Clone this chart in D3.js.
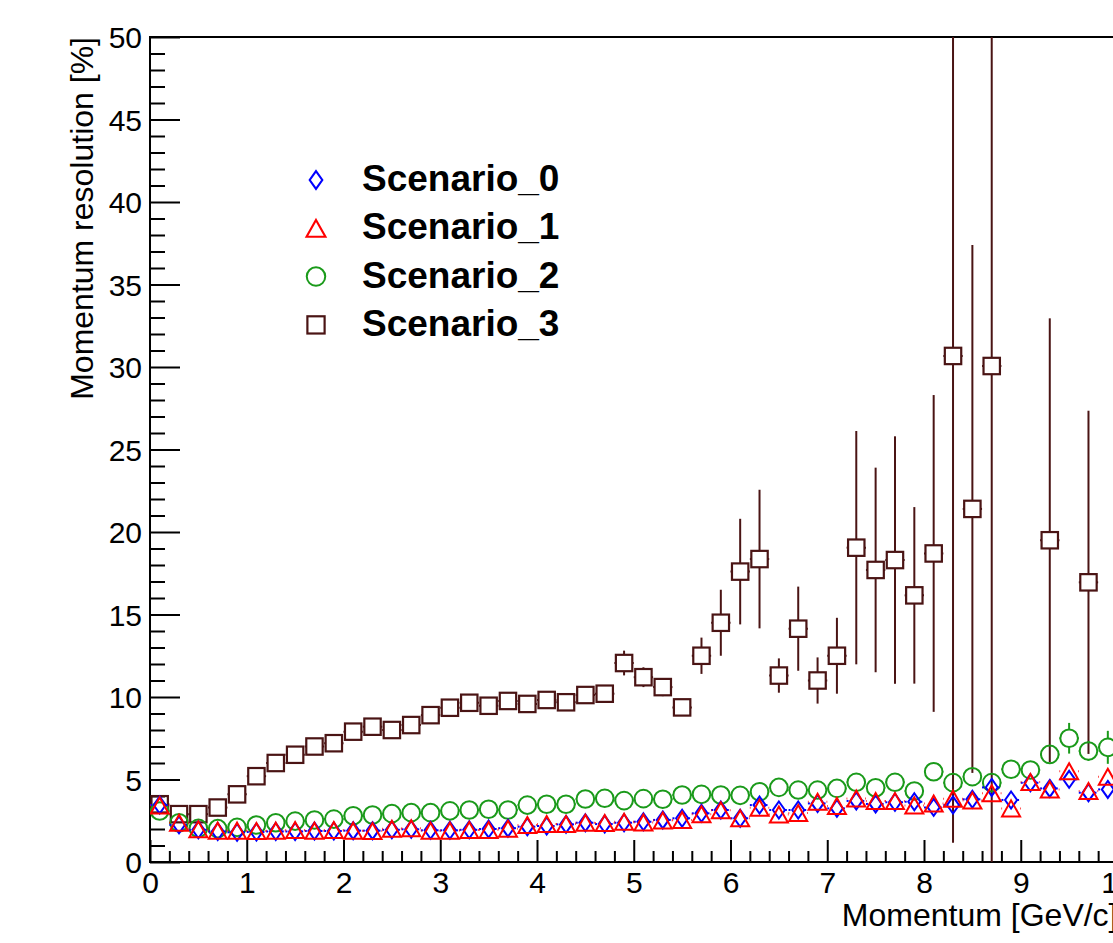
<!DOCTYPE html>
<html>
<head>
<meta charset="utf-8">
<script src="https://cdn.jsdelivr.net/npm/d3@7"></script>
<style>
  body { margin: 0; background: #fff; }
  svg { display: block; font-family: "Liberation Sans", Arial, sans-serif; }
</style>
</head>
<body>
<svg id="chart" width="1113" height="943"></svg>
<script>
// bin centres, 0.2 GeV/c wide
const momentum = d3.range(50).map(i => +(0.1 + 0.2 * i).toFixed(1));

const scenario0 = [3.45, 2.25, 1.95, 1.85, 1.8, 1.82, 1.85, 1.85, 1.88, 1.88,
  1.9, 1.9, 1.95, 1.98, 1.92, 1.92, 1.95, 2.0, 2.05, 2.14,
  2.18, 2.28, 2.38, 2.3, 2.38, 2.44, 2.55, 2.65, 2.95, 3.15,
  2.65, 3.45, 3.15, 3.15, 3.55, 3.25, 3.7, 3.52, 3.62, 3.65,
  3.31, 3.45, 3.8, 4.52, 3.76, 4.8, 4.46, 5.01, 4.2, 4.4];

const scenario1 = [3.43, 2.38, 1.98, 1.9, 1.9, 1.88, 1.9, 1.94, 1.9, 1.94,
  1.9, 1.88, 2.02, 2.04, 1.9, 1.9, 1.94, 1.94, 2.02, 2.24,
  2.3, 2.3, 2.38, 2.36, 2.44, 2.4, 2.52, 2.55, 2.89, 3.13,
  2.65, 3.29, 2.88, 2.97, 3.65, 3.4, 3.85, 3.7, 3.7, 3.43,
  3.55, 3.84, 3.72, 4.16, 3.25, 4.85, 4.4, 5.5, 4.3, 5.17];

const scenario2 = [3.09, 2.38, 2.04, 2.02, 2.1, 2.24, 2.38, 2.48, 2.55, 2.6,
  2.8, 2.85, 2.93, 2.99, 2.99, 3.1, 3.15, 3.2, 3.15, 3.45,
  3.5, 3.5, 3.82, 3.86, 3.72, 3.84, 3.8, 4.06, 4.1, 4.06,
  4.04, 4.26, 4.52, 4.36, 4.36, 4.46, 4.83, 4.5, 4.83, 4.3,
  5.47, 4.81, 5.17, 4.81, 5.62, 5.58, 6.52, 7.5, 6.73, 6.95];
const scenario2Err = [0, 0, 0, 0, 0, 0, 0, 0, 0, 0,
  0, 0, 0, 0, 0, 0, 0, 0, 0, 0,
  0, 0, 0, 0, 0, 0, 0, 0, 0, 0,
  0, 0, 0, 0, 0, 0, 0, 0, 0, 0,
  0.2, 0.2, 0.2, 0.2, 0.2, 0.2, 0.45, 0.93, 0.6, 1.0];

const scenario3 = [3.5, 2.9, 2.9, 3.3, 4.1, 5.2, 6.0, 6.5, 7.0, 7.2,
  7.9, 8.2, 8.0, 8.3, 8.9, 9.35, 9.65, 9.47, 9.76, 9.58,
  9.82, 9.68, 10.12, 10.2, 12.06, 11.2, 10.6, 9.37, 12.5, 14.5,
  17.6, 18.36, 11.3, 14.14, 11.0, 12.5, 19.05, 17.7, 18.3, 16.16,
  18.7, 30.67, 21.4, 30.06, null, null, 19.5, null, 16.95, null];
const scenario3Err = [0.1, 0.1, 0.1, 0.1, 0.1, 0.1, 0.1, 0.1, 0.1, 0.1,
  0.1, 0.1, 0.1, 0.1, 0.1, 0.1, 0.1, 0.1, 0.1, 0.1,
  0.1, 0.1, 0.2, 0.2, 0.75, 0.6, 0.55, 0.3, 1.1, 2.0,
  3.2, 4.2, 1.04, 2.55, 1.4, 2.3, 7.07, 6.2, 7.5, 5.35,
  9.6, 29.5, 16.0, 31, 0, 0, 13.45, 0, 10.4, 0];

const seriesNames = ["Scenario_0", "Scenario_1", "Scenario_2", "Scenario_3"];
const seriesColors = ["#0000ff", "#ff0000", "#1a9a1a", "#4a1414"];
const seriesShapes = ["diamond", "triangle", "circle", "square"];

const svg = d3.select("#chart");
const padLeft = 150, padTop = 37, frameRight = 1117.5, frameBottom = 862;

const x = d3.scaleLinear().domain([0, 10]).range([padLeft, frameRight]);
const y = d3.scaleLinear().domain([0, 50]).range([frameBottom, padTop]);

// axes (ROOT style: ticks pointing inward)
const xMajor = d3.axisBottom(x).tickValues(d3.range(0, 11)).tickSize(-22).tickFormat(d3.format("d"));
const xMinor = d3.axisBottom(x).tickValues(d3.range(0, 50).map(i => i * 0.2).filter(v => Math.abs(v - Math.round(v)) > 1e-6)).tickSize(-11).tickFormat("");
const yMajor = d3.axisLeft(y).tickValues(d3.range(0, 51, 5)).tickSize(-30).tickFormat(d3.format("d"));
const yMinor = d3.axisLeft(y).tickValues(d3.range(0, 51).filter(v => v % 5)).tickSize(-15).tickFormat("");

function styleAxis(g) {
  g.select(".domain").remove();
  g.selectAll("line").attr("stroke", "#000").attr("stroke-width", 2);
  g.selectAll("text").attr("fill", "#000").style("font-size", "30px")
    .style("font-family", "'Liberation Sans', Arial, sans-serif");
}

svg.append("g").attr("transform", `translate(0,${frameBottom})`).call(xMinor).call(styleAxis);
const gx = svg.append("g").attr("transform", `translate(0,${frameBottom})`).call(xMajor).call(styleAxis);
gx.selectAll("text").attr("y", 10).attr("dy", "0.71em");
svg.append("g").attr("transform", `translate(${padLeft},0)`).call(yMinor).call(styleAxis);
const gy = svg.append("g").attr("transform", `translate(${padLeft},0)`).call(yMajor).call(styleAxis);
gy.selectAll("text").attr("x", -8).attr("dy", "0.36em");

// frame
svg.append("rect")
  .attr("x", padLeft).attr("y", padTop)
  .attr("width", frameRight - padLeft).attr("height", frameBottom - padTop)
  .attr("fill", "none").attr("stroke", "#000").attr("stroke-width", 2);

// axis titles
svg.append("text")
  .attr("transform", `translate(93,${padTop}) rotate(-90)`)
  .attr("text-anchor", "end")
  .style("font-size", "32px")
  .text("Momentum resolution [%]");

svg.append("text")
  .attr("x", frameRight).attr("y", 926)
  .attr("text-anchor", "end")
  .style("font-size", "32px")
  .text("Momentum [GeV/c]");

svg.append("clipPath").attr("id", "plotclip")
  .append("rect").attr("x", padLeft).attr("y", padTop)
  .attr("width", frameRight - padLeft).attr("height", frameBottom - padTop);

const plot = svg.append("g").attr("clip-path", "url(#plotclip)");

// half sizes of each marker: [horizontal, vertical]
const markerHalf = {
  diamond: [6, 8.5],
  triangle: [9, 8],
  circle: [8.8, 8.8],
  square: [8.2, 8.2]
};

function markerPath(shape) {
  if (shape === "diamond") return "M0,-8.5L6,0L0,8.5L-6,0Z";
  if (shape === "triangle") return "M0,-8L9,8L-9,8Z";
  return null;
}

function drawMarker(g, shape, color, cx, cy, scale) {
  const s = scale || 1;
  if (shape === "circle") {
    g.append("circle").attr("cx", cx).attr("cy", cy).attr("r", 8.8 * s)
      .attr("fill", "none").attr("stroke", color).attr("stroke-width", 2);
  } else if (shape === "square") {
    g.append("rect").attr("x", cx - 8.2 * s).attr("y", cy - 8.2 * s)
      .attr("width", 16.4 * s).attr("height", 16.4 * s)
      .attr("fill", "none").attr("stroke", color).attr("stroke-width", 2.2);
  } else {
    g.append("path").attr("d", markerPath(shape))
      .attr("transform", `translate(${cx},${cy}) scale(${s})`)
      .attr("fill", "none").attr("stroke", color).attr("stroke-width", 2);
  }
}

function drawSeries(values, errs, shape, color, dotted) {
  const g = plot.append("g");
  const pts = momentum.map((m, i) => ({ m, v: values[i], e: errs ? errs[i] : 0 }))
    .filter(d => d.v != null);
  const dash = dotted ? "2,3" : null;
  const [hx, hy] = markerHalf[shape];
  const segs = [];
  pts.forEach(d => {
    const cx = x(d.m), cy = y(d.v);
    // x errors (half bin width), leaving a gap for the marker
    segs.push([x(d.m - 0.1), cy, cx - hx, cy]);
    segs.push([cx + hx, cy, x(d.m + 0.1), cy]);
    if (d.e > 0) {
      const top = y(d.v + d.e), bot = y(d.v - d.e);
      if (cy - hy > top) segs.push([cx, top, cx, cy - hy]);
      if (bot > cy + hy) segs.push([cx, cy + hy, cx, bot]);
    }
  });
  g.selectAll("line").data(segs).enter().append("line")
    .attr("x1", s => s[0]).attr("y1", s => s[1])
    .attr("x2", s => s[2]).attr("y2", s => s[3])
    .attr("stroke", color).attr("stroke-width", 2).attr("stroke-dasharray", dash);
  pts.forEach(d => drawMarker(g, shape, color, x(d.m), y(d.v)));
}

drawSeries(scenario3, scenario3Err, seriesShapes[3], seriesColors[3], false);
drawSeries(scenario2, scenario2Err, seriesShapes[2], seriesColors[2], false);
drawSeries(scenario0, null, seriesShapes[0], seriesColors[0], true);
drawSeries(scenario1, null, seriesShapes[1], seriesColors[1], true);

// legend
const legend = svg.append("g");
seriesNames.forEach((name, i) => {
  const cy = 180 + i * 48.3;
  drawMarker(legend, seriesShapes[i], seriesColors[i], 316, cy, 1.05);
  legend.append("text")
    .attr("x", 362).attr("y", cy + 11)
    .style("font-size", "37px").style("font-weight", "bold")
    .text(name);
});
</script>
</body>
</html>
